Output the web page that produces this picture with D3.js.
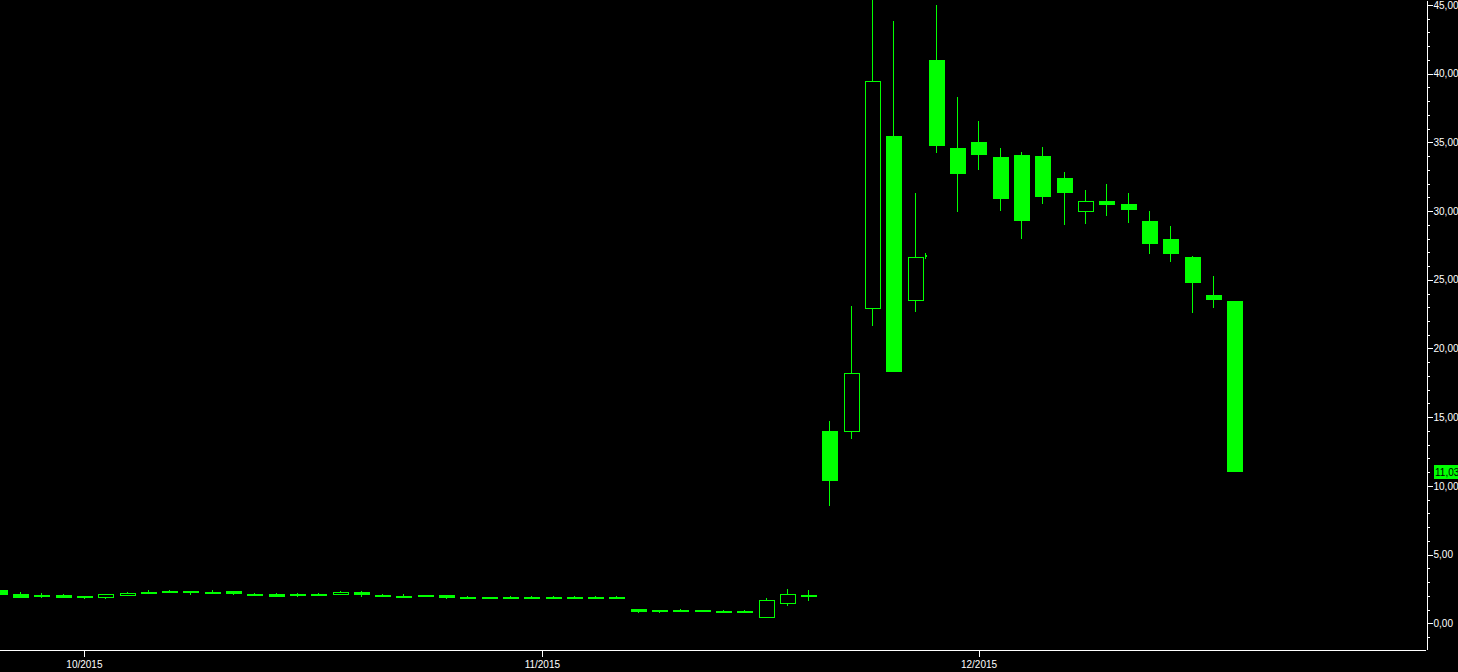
<!DOCTYPE html>
<html>
<head>
<meta charset="utf-8">
<script src="https://cdn.jsdelivr.net/npm/d3@7"></script>
<style>
	html, body { margin: 0; padding: 0; background: #000; overflow: hidden; }
	svg { display: block; }
	text { font-family: "Liberation Sans", Arial, sans-serif; }
</style>
</head>
<body>
<div id="chart"></div>
<script>
// daily candles, one per trading session
var opens = [2.42, 2.13, 2.06, 2.06, 1.99, 1.84, 1.99, 2.28, 2.35, 2.35,
	2.28, 2.35, 2.13, 2.13, 2.13, 2.13, 2.06, 2.28, 2.06, 1.99,
	2.06, 2.06, 1.91, 1.91, 1.91, 1.91, 1.91, 1.91, 1.91, 1.91,
	1.04, 0.97, 0.97, 0.97, 0.90, 0.90, 0.39, 1.40, 2.06, 13.98,
	13.95, 22.90, 35.47, 23.48, 41.00, 34.59, 35.02, 33.94, 34.08, 34.01,
	32.41, 29.96, 30.74, 30.52, 29.28, 27.97, 26.66, 23.89, 23.46];
var highs = [2.42, 2.28, 2.21, 2.13, 1.99, 2.13, 2.28, 2.42, 2.42, 2.35,
	2.42, 2.35, 2.21, 2.21, 2.21, 2.21, 2.35, 2.35, 2.13, 2.13,
	2.06, 2.06, 1.99, 1.91, 1.99, 1.99, 1.99, 1.99, 1.99, 1.99,
	1.04, 0.97, 1.04, 0.97, 0.97, 0.97, 1.84, 2.50, 2.42, 14.71,
	23.09, 46.50, 43.80, 31.32, 45.00, 38.30, 36.56, 34.59, 34.30, 34.67,
	32.85, 31.54, 31.97, 31.32, 30.01, 28.92, 26.73, 25.28, 23.46];
var lows = [2.08, 1.84, 1.84, 1.84, 1.77, 1.77, 1.99, 2.13, 2.21, 2.06,
	2.13, 2.06, 1.99, 1.91, 1.91, 1.99, 2.06, 1.91, 1.91, 1.84,
	1.91, 1.77, 1.77, 1.77, 1.77, 1.77, 1.77, 1.77, 1.77, 1.77,
	0.75, 0.75, 0.82, 0.82, 0.75, 0.75, 0.39, 1.26, 1.62, 8.54,
	13.41, 21.66, 18.31, 22.68, 34.25, 29.96, 33.01, 30.03, 27.99, 30.54,
	29.01, 29.08, 29.67, 29.16, 26.90, 26.32, 22.61, 22.97, 11.03];
var closes = [2.08, 1.84, 1.91, 1.84, 1.84, 2.13, 2.21, 2.13, 2.21, 2.21,
	2.13, 2.13, 1.99, 1.91, 1.99, 1.99, 2.28, 2.06, 1.91, 1.84,
	1.91, 1.84, 1.77, 1.77, 1.77, 1.77, 1.77, 1.77, 1.77, 1.77,
	0.82, 0.82, 0.82, 0.82, 0.75, 0.75, 1.70, 2.13, 1.91, 10.36,
	18.20, 39.47, 18.31, 26.64, 34.76, 32.72, 34.11, 30.90, 29.30, 31.05,
	31.34, 30.74, 30.44, 30.10, 27.63, 26.90, 24.79, 23.55, 11.03];

// month ticks (position in sessions) and their labels
var monthPos = [4, 25.5, 46];
var monthLabels = ["10/2015", "11/2015", "12/2015"];

var priceTicks = [0, 5, 10, 15, 20, 25, 30, 35, 40, 45];
var lastPrice = closes[closes.length - 1];

// small flag mark next to the 24th-of-rally session
var flagPos = [43.5];
var flagHigh = [26.95];
var flagLow = [26.5];

var width = 1458, height = 672;
var plotRight = 1426, plotBottom = 649;
var green = "#00ff00";

var svg = d3.select("#chart").append("svg")
	.attr("width", width).attr("height", height)
	.style("background", "#000");

var x = d3.scaleLinear().domain([0, 67]).range([-1.3, 1425.8]);
var y = d3.scaleLinear().domain([-1.87, 45.36]).range([plotBottom, 0]);

svg.append("clipPath").attr("id", "plot")
	.append("rect").attr("x", 0).attr("y", 0)
	.attr("width", plotRight).attr("height", plotBottom);

var candles = d3.range(opens.length).map(function(i) {
	return { i: i, o: opens[i], h: highs[i], l: lows[i], c: closes[i] };
});

var plot = svg.append("g").attr("clip-path", "url(#plot)")
	.attr("shape-rendering", "crispEdges");

// wicks
plot.selectAll("line.wick").data(candles).enter().append("line")
	.attr("class", "wick")
	.attr("x1", function(d) { return Math.round(x(d.i)) + 0.5; })
	.attr("x2", function(d) { return Math.round(x(d.i)) + 0.5; })
	.attr("y1", function(d) { return Math.round(y(d.h)); })
	.attr("y2", function(d) { return Math.round(y(d.l)); })
	.attr("stroke", green).attr("stroke-width", 1);

// bodies: filled when it closed lower, hollow when it closed higher
plot.selectAll("rect.body").data(candles).enter().append("rect")
	.attr("class", "body")
	.each(function(d) {
		var xc = Math.round(x(d.i));
		var top = Math.round(y(Math.max(d.o, d.c)));
		var bot = Math.round(y(Math.min(d.o, d.c)));
		var r = d3.select(this);
		if (d.c < d.o) {
			r.attr("x", xc - 7).attr("width", 16)
				.attr("y", top).attr("height", Math.max(2, bot - top))
				.attr("fill", green);
		} else {
			r.attr("x", xc - 6.5).attr("width", 15)
				.attr("y", top + 0.5).attr("height", Math.max(1, bot - top - 1))
				.attr("fill", "#000").attr("stroke", green).attr("stroke-width", 1);
		}
	});

// flag mark
flagPos.forEach(function(p, k) {
	var fx = Math.round(x(p)) + 0.5;
	var fy = Math.round(y(flagHigh[k]));
	plot.append("line").attr("x1", fx).attr("x2", fx)
		.attr("y1", fy).attr("y2", Math.round(y(flagLow[k])))
		.attr("stroke", green).attr("stroke-width", 1);
	plot.append("rect").attr("x", fx + 0.5).attr("y", fy + 2)
		.attr("width", 1).attr("height", 2).attr("fill", green);
});

// price axis on the right
var fmt = function(d) { return d3.format(".2f")(d).replace(".", ","); };

svg.append("g")
	.attr("transform", "translate(" + (plotRight + 0.5) + ",0)")
	.call(d3.axisRight(y).tickValues(priceTicks).tickFormat(fmt)
		.tickSize(6).tickSizeOuter(0).tickPadding(1));

var minor = d3.range(-1, 46).filter(function(v) { return v % 5 !== 0; });
svg.append("g")
	.attr("transform", "translate(" + (plotRight + 0.5) + ",0)")
	.call(d3.axisRight(y).tickValues(minor).tickFormat("").tickSize(3))
	.call(function(g) { g.select(".domain").remove(); });

// time axis at the bottom
svg.append("g")
	.attr("transform", "translate(0," + (plotBottom + 0.5) + ")")
	.call(d3.axisBottom(x).tickValues(monthPos)
		.tickFormat(function(d, i) { return monthLabels[i]; })
		.tickSize(7).tickSizeOuter(0).tickPadding(4));

svg.selectAll(".domain, .tick line")
	.attr("stroke", "#fff").attr("shape-rendering", "crispEdges");
svg.selectAll(".tick text")
	.attr("fill", "#fff").attr("font-size", "10px")
	.attr("font-family", "'Liberation Sans', Arial, sans-serif");

// last price marker
var ly = Math.round(y(lastPrice));
svg.append("rect").attr("x", 1434).attr("y", ly - 7)
	.attr("width", 30).attr("height", 14).attr("fill", green);
svg.append("text").attr("x", 1435).attr("y", ly + 4)
	.attr("font-size", "10px").attr("fill", "#000")
	.text(fmt(lastPrice));
</script>
</body>
</html>
